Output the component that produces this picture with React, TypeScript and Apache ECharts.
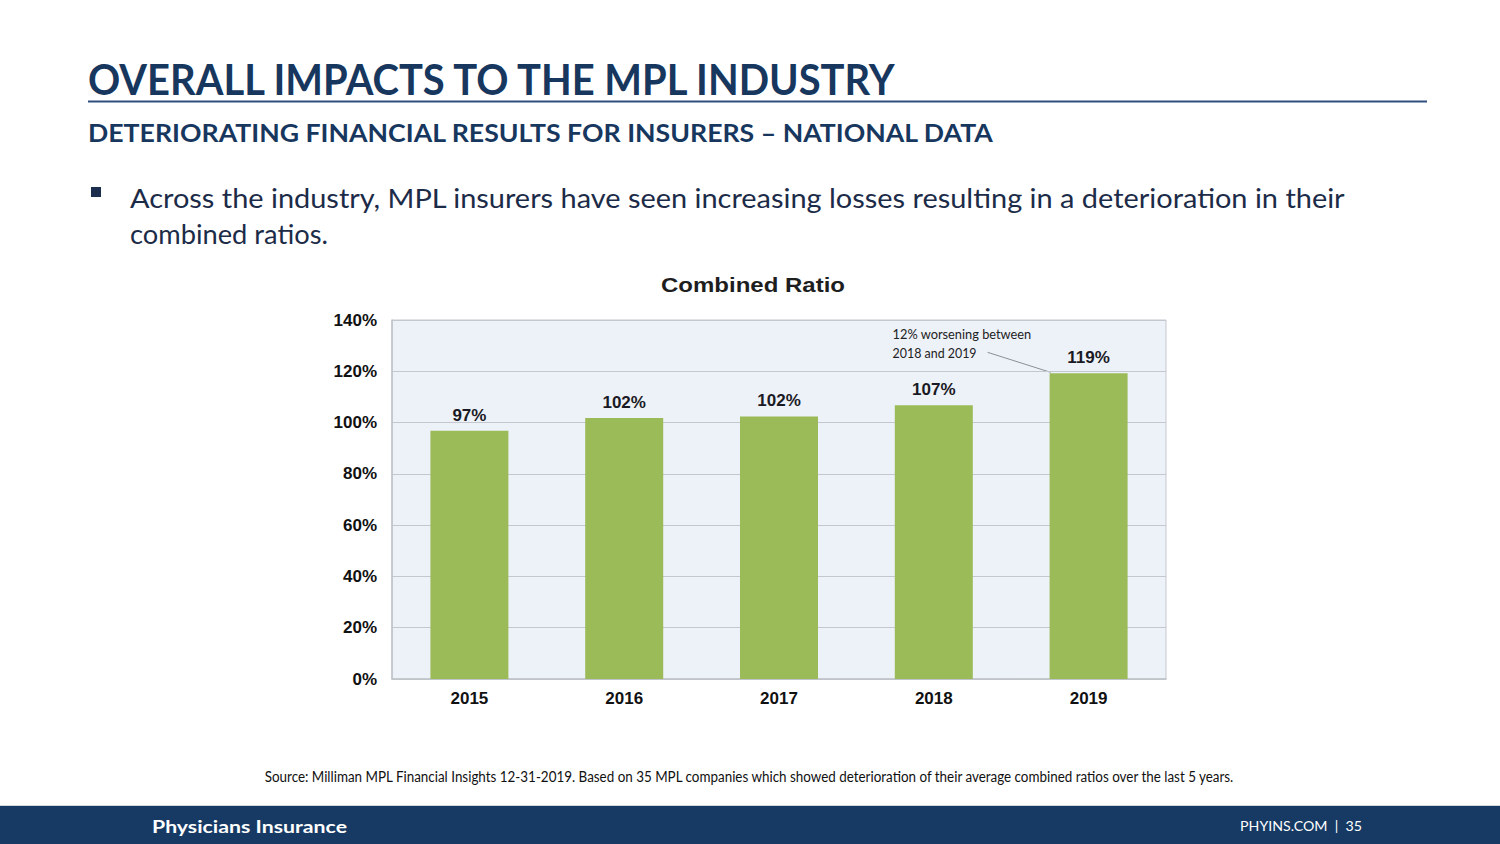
import * as echarts from "echarts";
import { useEffect, useRef } from "react";

const years = ["2015", "2016", "2017", "2018", "2019"];
const combinedRatio = [96.8, 101.8, 102.4, 106.8, 119.2];
const yTicks = { min: 0, max: 140, interval: 20 };

const pageTitle = "OVERALL IMPACTS TO THE MPL INDUSTRY";
const pageSubtitle = "DETERIORATING FINANCIAL RESULTS FOR INSURERS \u2013 NATIONAL DATA";
const bulletLines = [
  "Across the industry, MPL insurers have seen increasing losses resulting in a deterioration in their",
  "combined ratios.",
];
const chartTitle = "Combined Ratio";
const noteLines = ["12% worsening between", "2018 and 2019"];
const sourceNote =
  "Source: Milliman MPL Financial Insights 12-31-2019. Based on 35 MPL companies which showed deterioration of their average combined ratios over the last 5 years.";
const footerLeft = "Physicians Insurance";
const footerRight = "PHYINS.COM  |  35";

const SLIDE_FONT = "Lato, 'Open Sans', sans-serif";
const CHART_FONT = "'Liberation Sans', Arial, sans-serif";
const NAVY = "#17375e";
const BAR_WIDTH = 78;

// horizontal scale that squeezes a text run to the width it has on the slide
function fitScale(text: string, font: string, width: number): number {
  const ctx = document.createElement("canvas").getContext("2d");
  if (!ctx) return 1;
  ctx.font = font;
  const measured = ctx.measureText(text).width;
  return measured > 0 ? width / measured : 1;
}

function slideText(
  id: string,
  text: string,
  x: number,
  y: number,
  size: number,
  weight: string,
  color: string,
  width: number,
  align: "left" | "center" | "right" = "left",
  family = SLIDE_FONT,
) {
  return {
    id,
    type: "text",
    x,
    y,
    scaleX: fitScale(text, `${weight} ${size}px ${family}`, width),
    style: {
      text,
      fill: color,
      font: `${weight} ${size}px ${family}`,
      textAlign: align,
      textVerticalAlign: "middle",
    },
  };
}

export default function App() {
  const ref = useRef<HTMLDivElement>(null);

  useEffect(() => {
    const el = ref.current;
    if (!el) return;
    const chart = echarts.init(el, undefined, { renderer: "svg" });

    const option: echarts.EChartsOption = {
      animation: false,
      backgroundColor: "#ffffff",
      grid: {
        left: 392,
        top: 320,
        width: 774,
        height: 359,
        show: true,
        backgroundColor: "#edf1f8",
        borderColor: "#c4c8ce",
        borderWidth: 1,
      },
      xAxis: {
        type: "category",
        data: years,
        axisLine: { lineStyle: { color: "#bfc3c9", width: 1.5 } },
        axisTick: { show: false },
        axisLabel: {
          margin: 11,
          color: "#111111",
          fontFamily: CHART_FONT,
          fontWeight: "bold",
          fontSize: 17,
        },
      },
      yAxis: {
        type: "value",
        min: yTicks.min,
        max: yTicks.max,
        interval: yTicks.interval,
        axisLine: { show: true, lineStyle: { color: "#bfc3c9", width: 1.5 } },
        axisTick: { show: false },
        splitLine: { lineStyle: { color: "#c4c8ce", width: 1 } },
        axisLabel: {
          margin: 15,
          formatter: "{value}%",
          color: "#111111",
          fontFamily: CHART_FONT,
          fontWeight: "bold",
          fontSize: 17,
        },
      },
      series: [
        {
          type: "bar",
          data: combinedRatio,
          barWidth: BAR_WIDTH,
          itemStyle: { color: "#9bbb59" },
          label: {
            show: true,
            position: "top",
            distance: 7,
            formatter: (p: any) => `${Math.round(p.value)}%`,
            color: "#1a1a24",
            fontFamily: CHART_FONT,
            fontWeight: "bold",
            fontSize: 17,
          },
        },
      ],
      graphic: [
        slideText("title", pageTitle, 88, 79, 42, "bold", NAVY, 812),
        {
          id: "rule",
          type: "line",
          shape: { x1: 88, y1: 101.5, x2: 1427, y2: 101.5 },
          style: { stroke: "#2f4f80", lineWidth: 2 },
        },
        slideText("subtitle", pageSubtitle, 88, 133, 24, "bold", NAVY, 907),
        {
          id: "bullet",
          type: "rect",
          shape: { x: 91, y: 187, width: 10, height: 10 },
          style: { fill: "#1c2e4e" },
        },
        slideText("line1", bulletLines[0], 130, 197, 27, "normal", "#1c2b48", 1216),
        slideText("line2", bulletLines[1], 130, 234, 27, "normal", "#1c2b48", 198),
        slideText("chartTitle", chartTitle, 753, 285, 21, "bold", "#1e1e1e", 184, "center", CHART_FONT),
        slideText("source", sourceNote, 749, 776, 15, "normal", "#111111", 972, "center"),
        {
          id: "band",
          type: "rect",
          shape: { x: 0, y: 806, width: 1500, height: 38 },
          style: { fill: "#163a64" },
        },
        {
          id: "bandEdge",
          type: "line",
          shape: { x1: 0, y1: 805.5, x2: 1500, y2: 805.5 },
          style: { stroke: "#d4d8de", lineWidth: 1 },
        },
        slideText("brand", footerLeft, 152, 826, 17, "bold", "#ffffff", 195),
        slideText("page", footerRight, 1362, 826, 14, "normal", "#ffffff", 122, "right"),
      ],
    };
    chart.setOption(option);

    // callout tied to the 2019 bar through the chart's own scales
    const last = years.length - 1;
    const top = chart.convertToPixel({ xAxisIndex: 0, yAxisIndex: 0 }, [
      last,
      combinedRatio[last],
    ]) as number[];
    const barLeft = top[0] - BAR_WIDTH / 2;
    const noteX = barLeft - 157;
    const noteY = top[1] - 40;
    chart.setOption({
      graphic: [
        slideText("note1", noteLines[0], noteX, noteY, 14, "normal", "#222222", 139),
        slideText("note2", noteLines[1], noteX, noteY + 19, 14, "normal", "#222222", 84),
        {
          id: "noteLine",
          type: "line",
          shape: { x1: noteX + 95, y1: noteY + 19, x2: barLeft + 1, y2: top[1] - 1 },
          style: { stroke: "#8a9099", lineWidth: 1 },
        },
      ],
    });

    return () => chart.dispose();
  }, []);

  return (
    <div
      ref={ref}
      style={{ position: "fixed", left: 0, top: 0, width: 1500, height: 844 }}
    />
  );
}
